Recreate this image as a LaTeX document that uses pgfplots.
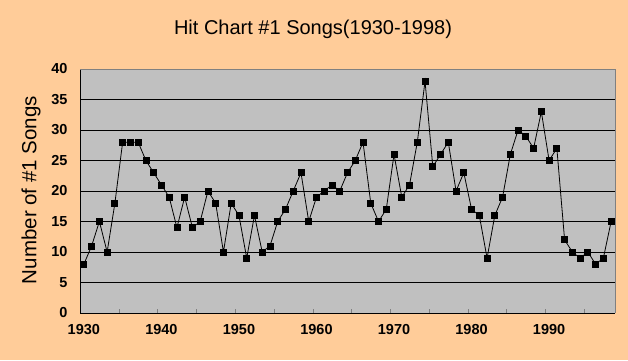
\documentclass[border=0pt]{standalone}
\usepackage{pgfplots}
\pgfplotsset{compat=1.18}
\usepackage{fontspec}
\setmainfont{Liberation Sans}
\definecolor{bg}{HTML}{FFCC99}
\definecolor{plotbg}{HTML}{C0C0C0}
\begin{document}
\begin{tikzpicture}[x=1pt,y=1pt]
\fill[bg] (0,0) rectangle (628,360);
\path[use as bounding box] (0,0) rectangle (628,360);
\node at (313,331) {\fontsize{20}{23}\selectfont Hit Chart \#1 Songs(1930-1998)};
\node[rotate=90] at (31,170) {\fontsize{20.5}{24}\selectfont Number of \#1 Songs};
\begin{axis}[
  at={(80pt,47pt)}, anchor=south west,
  scale only axis, width=535pt, height=244pt,
  xmin=1929.5, xmax=1998.5, ymin=0, ymax=40,
  ytick={0,5,...,40},
  xtick={1930,1940,...,1990},
  minor xtick={1934.5,1939.5,...,1994.5},
  major tick length=0pt, minor tick length=4pt, tick align=inside,
  ymajorgrids, major grid style={black, line width=0.8pt},
  axis background/.style={fill=plotbg},
  axis x line*=bottom, axis y line*=left,
  axis line style={black, line width=0.8pt},
  /pgf/number format/assume math mode=true,
  /pgf/number format/1000 sep={},
  ticklabel style={font=\fontsize{14.5}{16}\selectfont\bfseries},
  xticklabel style={yshift=-8pt},
  yticklabel style={xshift=-9pt},
  clip=false,
]
\addplot[black, line width=0.8pt, mark=square*, mark size=3pt, mark options={solid}] table {
x y
1930 8
1931 11
1932 15
1933 10
1934 18
1935 28
1936 28
1937 28
1938 25
1939 23
1940 21
1941 19
1942 14
1943 19
1944 14
1945 15
1946 20
1947 18
1948 10
1949 18
1950 16
1951 9
1952 16
1953 10
1954 11
1955 15
1956 17
1957 20
1958 23
1959 15
1960 19
1961 20
1962 21
1963 20
1964 23
1965 25
1966 28
1967 18
1968 15
1969 17
1970 26
1971 19
1972 21
1973 28
1974 38
1975 24
1976 26
1977 28
1978 20
1979 23
1980 17
1981 16
1982 9
1983 16
1984 19
1985 26
1986 30
1987 29
1988 27
1989 33
1990 25
1991 27
1992 12
1993 10
1994 9
1995 10
1996 8
1997 9
1998 15
};
\draw[gray, line width=0.8pt] (rel axis cs:0,1) -- (rel axis cs:1,1) -- (rel axis cs:1,0);
\end{axis}
\end{tikzpicture}
\end{document}
